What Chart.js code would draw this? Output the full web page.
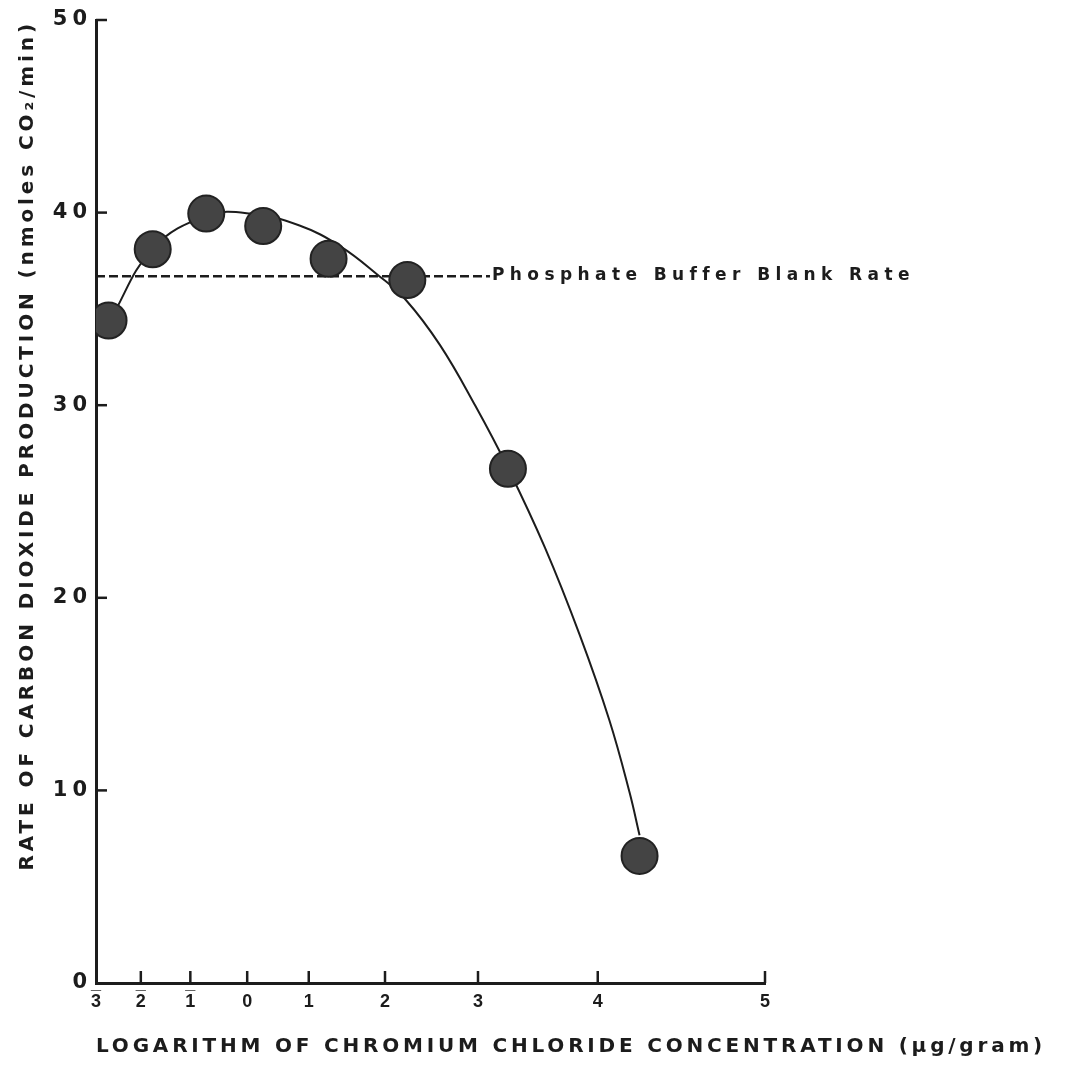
<!DOCTYPE html>
<html>
<head>
<meta charset="utf-8">
<script src="https://cdn.jsdelivr.net/npm/chart.js@4.4.0/dist/chart.umd.min.js"></script>
<style>
  html, body { margin: 0; padding: 0; background: #fff; }
  #wrap { width: 1071px; height: 1089px; }
</style>
</head>
<body>
<div id="wrap"><canvas id="co2Chart"></canvas></div>
<script>
// x axis: log of chromium chloride concentration, hand-ruled (uneven spacing)
const xTickValues = [-3, -2, -1, 0, 1, 2, 3, 4, 5];
const yTickValues = [0, 10, 20, 30, 40, 50];

// measured points
const logConc = [-2.72, -1.76, -0.72, 0.26, 1.26, 2.24, 3.25, 4.25];
const co2Rate = [34.4, 38.1, 39.95, 39.3, 37.6, 36.5, 26.7, 6.6];

// fitted curve as drawn
const curveX = [-2.69, -1.76, -0.70, 0.05, 0.85, 1.41, 1.91, 2.22, 2.59, 2.97, 3.25, 3.56, 3.85, 4.07, 4.19, 4.25];
const curveY = [34.4, 38.13, 39.84, 39.95, 39.33, 38.26, 36.75, 35.49, 33.13, 29.98, 26.74, 22.59, 18.06, 13.63, 9.9, 7.67];

// phosphate buffer blank
const blankRate = 36.7;
const blankFrom = -3;
const blankTo = 3.1;

// where each x tick sits along the axis (fraction of axis length)
const xAxisStops = [0, 0.067, 0.141, 0.226, 0.318, 0.432, 0.571, 0.750, 1];

const INK = '#1c1c1c';
const FONT = "'DejaVu Sans', Arial, sans-serif";
const TICK_FONT = "'Liberation Sans', Arial, sans-serif";

// letter spacing per axis (the lettering is widely tracked)
const axisSpacing = {
  x: { labels: '0px', title: '3.8px' },
  y: { labels: '5px', title: '3.9px' }
};

function toStop(v) {
  const n = xTickValues.length;
  let i = 0;
  while (i < n - 2 && v > xTickValues[i + 1]) i++;
  const t = (v - xTickValues[i]) / (xTickValues[i + 1] - xTickValues[i]);
  return xAxisStops[i] + t * (xAxisStops[i + 1] - xAxisStops[i]);
}

function fromStop(f) {
  const n = xAxisStops.length;
  let i = 0;
  while (i < n - 2 && f > xAxisStops[i + 1]) i++;
  const t = (f - xAxisStops[i]) / (xAxisStops[i + 1] - xAxisStops[i]);
  return xTickValues[i] + t * (xTickValues[i + 1] - xTickValues[i]);
}

class SpacedScale extends Chart.LinearScale {
  drawLabels(area) {
    const sp = axisSpacing[this.id] || {};
    this.ctx.save();
    this.ctx.letterSpacing = sp.labels || '0px';
    super.drawLabels(area);
    this.ctx.restore();
  }
  drawTitle() {
    const sp = axisSpacing[this.id] || {};
    this.ctx.save();
    this.ctx.letterSpacing = sp.title || '0px';
    super.drawTitle();
    this.ctx.restore();
  }
}
SpacedScale.id = 'spaced';
SpacedScale.defaults = Chart.LinearScale.defaults;

// linear scale with the paper's uneven ruling
class RuledScale extends SpacedScale {
  getPixelForValue(value) {
    return this.getPixelForDecimal(toStop(value));
  }
  getValueForPixel(pixel) {
    return fromStop(this.getDecimalForPixel(pixel));
  }
}
RuledScale.id = 'ruled';
RuledScale.defaults = Chart.LinearScale.defaults;
Chart.register(SpacedScale, RuledScale);

const pointData = logConc.map((x, i) => ({ x: x, y: co2Rate[i] }));
const curveData = curveX.map((x, i) => ({ x: x, y: curveY[i] }));
const blankData = [{ x: blankFrom, y: blankRate }, { x: blankTo, y: blankRate }];

// negative characteristics written with a bar over the digit
function xTickLabel(v) {
  return v < 0 ? ['_', String(Math.abs(v))] : ['', String(v)];
}

// ticks point inward on this plot, plus the free text
const paperPlugin = {
  id: 'paper',
  afterDraw(chart) {
    const ctx = chart.ctx;
    const x = chart.scales.x;
    const y = chart.scales.y;
    ctx.save();
    ctx.strokeStyle = INK;
    ctx.lineWidth = 2.5;
    x.ticks.forEach(t => {
      if (t.value === xTickValues[0]) return;
      const px = x.getPixelForValue(t.value);
      ctx.beginPath();
      ctx.moveTo(px, x.top);
      ctx.lineTo(px, x.top - 12);
      ctx.stroke();
    });
    y.ticks.forEach(t => {
      if (t.value === yTickValues[0]) return;
      const py = y.getPixelForValue(t.value);
      ctx.beginPath();
      ctx.moveTo(y.right, py);
      ctx.lineTo(y.right + 11, py);
      ctx.stroke();
    });

    ctx.fillStyle = INK;
    ctx.textBaseline = 'middle';
    ctx.textAlign = 'left';
    ctx.letterSpacing = '5.4px';
    ctx.font = 'bold 17px ' + FONT;
    ctx.fillText('Phosphate Buffer Blank Rate', x.getPixelForValue(blankTo) + 2, y.getPixelForValue(blankRate) - 1);

    ctx.letterSpacing = axisSpacing.x.title;
    ctx.font = 'bold 20px ' + FONT;
    ctx.fillText('LOGARITHM OF CHROMIUM CHLORIDE CONCENTRATION (\u03bcg/gram)', chart.chartArea.left, x.bottom - 42);
    ctx.restore();
  }
};

new Chart(document.getElementById('co2Chart'), {
  type: 'scatter',
  data: {
    datasets: [
      {
        label: 'Rate',
        data: pointData,
        order: 0,
        pointRadius: 18,
        pointHoverRadius: 18,
        pointBackgroundColor: '#444444',
        pointBorderColor: '#222222',
        pointBorderWidth: 2
      },
      {
        label: 'Fit',
        data: curveData,
        order: 1,
        showLine: true,
        tension: 0.4,
        borderColor: INK,
        borderWidth: 2,
        pointRadius: 0
      },
      {
        label: 'Phosphate Buffer Blank Rate',
        data: blankData,
        order: 2,
        showLine: true,
        borderColor: INK,
        borderWidth: 2.5,
        borderDash: [9, 4],
        pointRadius: 0
      }
    ]
  },
  options: {
    responsive: true,
    maintainAspectRatio: false,
    animation: false,
    layout: { padding: { top: 18, right: 306, left: 0, bottom: 0 } },
    plugins: {
      legend: { display: false },
      tooltip: { enabled: false }
    },
    scales: {
      x: {
        type: 'ruled',
        min: -3,
        max: 5,
        afterBuildTicks: s => { s.ticks = xTickValues.map(v => ({ value: v })); },
        afterFit: s => { s.height = 106; },
        grid: { display: false, drawTicks: false },
        border: { display: true, color: INK, width: 3 },
        ticks: {
          color: INK,
          padding: -8,
          maxRotation: 0,
          autoSkip: false,
          font: { family: TICK_FONT, size: 18, weight: 'bold', lineHeight: 1.0 },
          callback: xTickLabel
        }
      },
      y: {
        type: 'spaced',
        min: 0,
        max: 50,
        afterBuildTicks: s => { s.ticks = yTickValues.map(v => ({ value: v })); },
        afterFit: s => { s.width = 96; },
        grid: { display: false, drawTicks: false },
        border: { display: true, color: INK, width: 3 },
        ticks: {
          color: INK,
          padding: 4,
          font: { family: FONT, size: 21, weight: 'bold' }
        },
        title: {
          display: true,
          align: 'end',
          text: 'RATE OF CARBON DIOXIDE PRODUCTION (nmoles CO\u2082/min)',
          color: INK,
          padding: { top: 16, bottom: 0 },
          font: { family: FONT, size: 20, weight: 'bold' }
        }
      }
    }
  },
  plugins: [paperPlugin]
});
</script>
</body>
</html>
